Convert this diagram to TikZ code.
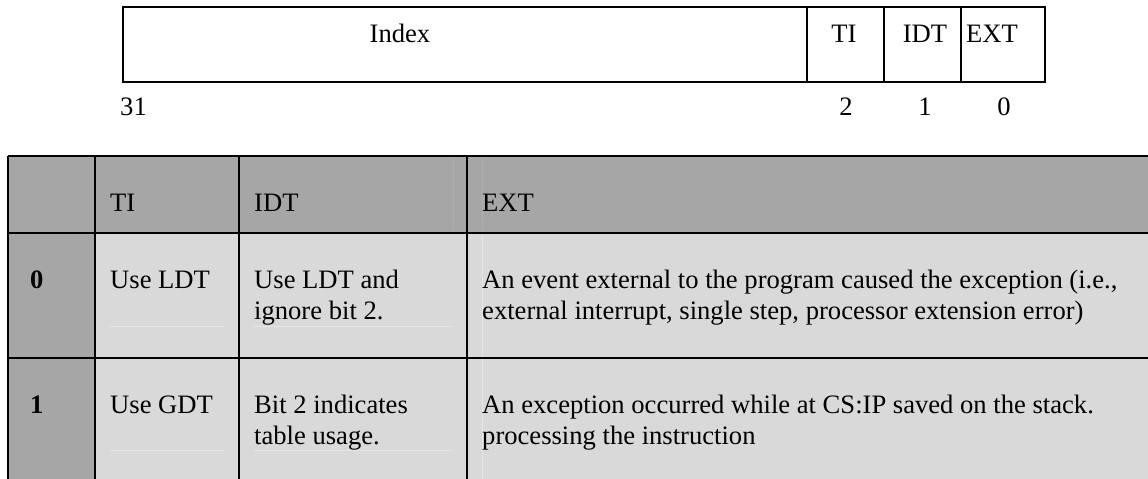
\documentclass[tikz,border=0pt]{standalone}
\usepackage{fontspec}
\setmainfont{Liberation Serif}
\definecolor{hdrgray}{HTML}{A6A6A6}
\definecolor{cellgray}{HTML}{D9D9D9}
\definecolor{ghostrule}{HTML}{E6E6E6}
\definecolor{ghostrulehdr}{HTML}{ADADAD}

\begin{document}
\begin{tikzpicture}[x=1pt,y=-1pt,
  txt/.style={font=\fontsize{26.6}{31}\selectfont, inner sep=0pt, align=left, anchor=base west},
  ctxt/.style={font=\fontsize{26.6}{31}\selectfont, inner sep=0pt, anchor=base},
  field/.style={draw=black, line width=1.6pt, inner sep=0pt},
  grid/.style={draw=black, line width=2pt},
  ghost/.style={draw=ghostrule, line width=1pt},
  ghosthdr/.style={draw=ghostrulehdr, line width=1pt}]
\useasboundingbox (0,0) rectangle (1148,479);
\clip (0,0) rectangle (1148,479);

% ---------- selector error code bit layout ----------
\coordinate (bfNW) at (123,7);
\coordinate (bfSE) at (1045,82);
\draw[field] (bfNW) rectangle (bfSE);
\foreach \xx in {807,884,961}
  \draw[field] (\xx,7) -- (\xx,82);

\node[ctxt] (fIndex) at (400,42) {Index};
\node[ctxt] (fTI)    at (844,42) {TI};
\node[ctxt] (fIDT)   at (925,42) {IDT};
\node[ctxt] (fEXT)   at (992,42) {EXT};

\node[txt]  (b31) at (120,115) {31};
\node[ctxt] (b2)  at (846,115) {2};
\node[ctxt] (b1)  at (925,115) {1};
\node[ctxt] (b0)  at (1004,115) {0};

% ---------- meaning of the TI / IDT / EXT bits ----------
% cell shading
\fill[cellgray] (95,233) rectangle (1160,490);
\fill[hdrgray]  (8,156) rectangle (1160,233);
\fill[hdrgray]  (8,233) rectangle (95,490);

% faint paragraph rules inside cells
\draw[ghost] (110,326) -- (225,326);
\draw[ghost] (254,326) -- (453,326);
\draw[ghost] (110,450) -- (225,450);
\draw[ghost] (254,450) -- (453,450);
\draw[ghost] (482,236) -- (482,490);
\draw[ghosthdr] (453,158) -- (453,231);
\draw[ghosthdr] (482,158) -- (482,231);

% grid
\foreach \yy in {156,233,358}
  \draw[grid] (8,\yy) -- (1160,\yy);
\foreach \xx in {8,95,239,467}
  \draw[grid] (\xx,156) -- (\xx,490);

% header row
\node[txt] (hTI)  at (110,211) {TI};
\node[txt] (hIDT) at (254,211) {IDT};
\node[txt] (hEXT) at (482,211) {EXT};

% row for bit value 0 (two-line cells are placed by their last baseline)
\node[txt] (r0) at (30,288) {\bfseries 0};
\node[txt] (r0TI)  at (110,288) {Use LDT};
\node[txt] (r0IDT) at (254,319) {Use LDT and\\ignore bit 2.};
\node[txt] (r0EXT) at (482,319) {An event external to the program caused the exception (i.e.,\\external interrupt, single step, processor extension error)};

% row for bit value 1
\node[txt] (r1) at (30,413) {\bfseries 1};
\node[txt] (r1TI)  at (110,413) {Use GDT};
\node[txt] (r1IDT) at (254,444) {Bit 2 indicates\\table usage.};
\node[txt] (r1EXT) at (482,444) {An exception occurred while at CS:IP saved on the stack.\\processing the instruction};
\end{tikzpicture}
\end{document}
